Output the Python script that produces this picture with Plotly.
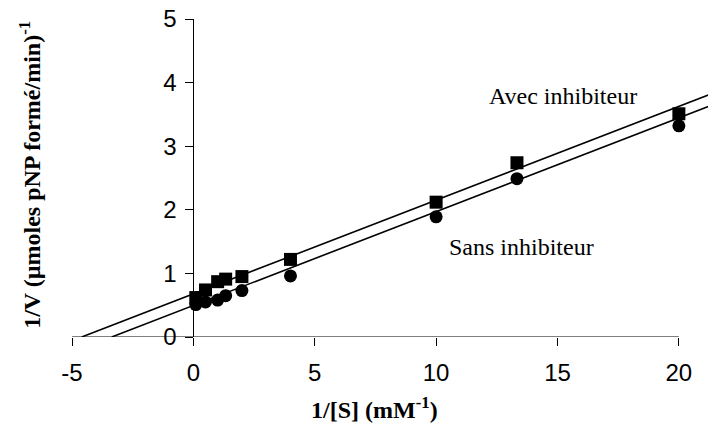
import plotly.graph_objects as go

# Data
inv_s = [0.1, 0.5, 1.0, 1.33, 2.0, 4.0, 10.0, 13.33, 20.0]
avec_inh = [0.62, 0.74, 0.87, 0.91, 0.95, 1.22, 2.12, 2.74, 3.51]
sans_inh = [0.51, 0.55, 0.58, 0.65, 0.73, 0.96, 1.89, 2.49, 3.32]

# Trendline parameters (slope, intercept)
avec_fit = (0.1474, 0.678)
sans_fit = (0.1475, 0.496)

x_ticks = [-5, 0, 5, 10, 15, 20]
y_ticks = [0, 1, 2, 3, 4, 5]

X_MIN, X_MAX = -5, 21.2
Y_MIN, Y_MAX = 0, 5

fig = go.Figure()

for (m, b) in (avec_fit, sans_fit):
    x0 = -b / m
    xs = [x0, X_MAX + 1]
    ys = [m * x + b for x in xs]
    fig.add_trace(go.Scatter(x=xs, y=ys, mode="lines",
                             line=dict(color="black", width=1.6),
                             showlegend=False, hoverinfo="skip"))

fig.add_trace(go.Scatter(x=inv_s, y=avec_inh, mode="markers",
                         marker=dict(symbol="square", size=13, color="black"),
                         name="Avec inhibiteur", showlegend=False, cliponaxis=False))
fig.add_trace(go.Scatter(x=inv_s, y=sans_inh, mode="markers",
                         marker=dict(symbol="circle", size=13, color="black"),
                         name="Sans inhibiteur", showlegend=False, cliponaxis=False))

# x axis line from -5 to 20 only
fig.add_shape(type="line", x0=x_ticks[0], x1=x_ticks[-1], y0=0, y1=0,
              xref="x", yref="y", line=dict(color="black", width=1))

tick_font = dict(family="Liberation Sans, Arial", size=24, color="black")
serif = "Liberation Serif"

fig.update_layout(
    width=708, height=446,
    margin=dict(l=72, r=0, t=19, b=109),
    paper_bgcolor="white", plot_bgcolor="white",
    xaxis=dict(range=[X_MIN, X_MAX], tickvals=x_ticks, ticktext=[str(v) for v in x_ticks],
               showgrid=False, zeroline=False, showline=False,
               ticks="outside", ticklen=8, tickcolor="black", tickwidth=1,
               tickfont=tick_font, ticklabelstandoff=6),
    yaxis=dict(range=[Y_MIN, Y_MAX], tickvals=y_ticks, ticktext=[str(v) for v in y_ticks],
               showgrid=False, zeroline=False, showline=True, linecolor="black", linewidth=1,
               ticks="outside", ticklen=8, tickcolor="black", tickwidth=1,
               tickfont=tick_font, anchor="free",
               position=(0 - X_MIN) / (X_MAX - X_MIN), ticklabelstandoff=4),
)

fig.add_annotation(text="Avec inhibiteur", x=12.1, y=3.79, xref="x", yref="y",
                   xanchor="left", yanchor="middle", showarrow=False,
                   font=dict(family=serif, size=24, color="black"))
fig.add_annotation(text="Sans inhibiteur", x=10.45, y=1.42, xref="x", yref="y",
                   xanchor="left", yanchor="middle", showarrow=False,
                   font=dict(family=serif, size=24, color="black"))

fig.add_annotation(text="<b>1/[S] (mM<sup>-1</sup>)</b>", x=0.476, y=-0.222,
                   xref="paper", yref="paper", xanchor="center", yanchor="middle",
                   showarrow=False, font=dict(family=serif, size=24, color="black"))
fig.add_annotation(text="<b>1/V (µmoles pNP formé/min)<sup>-1</sup></b>", x=-0.066, y=0.51,
                   xref="paper", yref="paper", xanchor="center", yanchor="middle",
                   textangle=-90, showarrow=False,
                   font=dict(family=serif, size=24, color="black"))

fig.write_html("out.html")
